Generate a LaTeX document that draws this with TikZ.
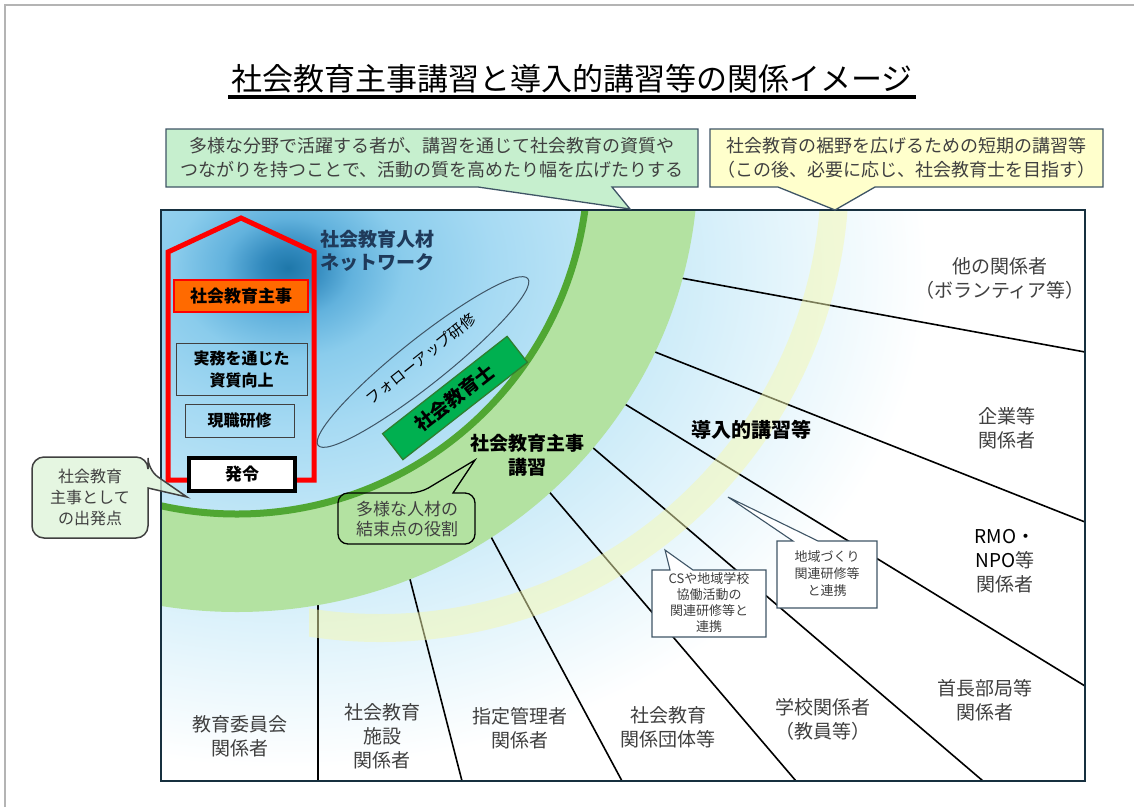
\documentclass[tikz,border=0pt]{standalone}
\usepackage{fontspec}
\setmainfont{Noto Sans CJK JP}
\usetikzlibrary{calc}
\definecolor{bgA}{HTML}{1E77A9}
\definecolor{bgB}{HTML}{3189BD}
\definecolor{bgC}{HTML}{62B2DD}
\definecolor{bgD}{HTML}{8ACCEC}
\definecolor{bgE}{HTML}{A6DAF3}
\definecolor{bgF}{HTML}{C9EAF8}
\definecolor{bgG}{HTML}{E7F6FC}
\definecolor{lgreen}{HTML}{B3E2A1}
\definecolor{dgreen}{HTML}{50A733}
\definecolor{yband}{HTML}{F4F8B0}
\definecolor{framec}{HTML}{17303F}
\definecolor{slate}{HTML}{3F5566}
\definecolor{cgreen}{HTML}{C6EFCE}
\definecolor{cyellow}{HTML}{FFFFCC}
\definecolor{cleft}{HTML}{DDF3D8}
\definecolor{labelgray}{HTML}{404040}
\definecolor{navytext}{HTML}{1F3A5A}
\definecolor{orangeF}{HTML}{FF6A00}
\definecolor{shigreen}{HTML}{00B050}
\definecolor{shiborder}{HTML}{2F7F2F}
\definecolor{slidegray}{HTML}{B4B4B4}
\pgfdeclareradialshading{bgsh}{\pgfpoint{0bp}{0bp}}{color(0bp)=(bgA); color(1bp)=(bgB); color(2.5bp)=(bgC); color(4.5bp)=(bgD); color(8bp)=(bgE); color(14bp)=(bgF); color(20bp)=(bgG); color(25bp)=(white); color(50bp)=(white)}
\begin{document}
\begin{tikzpicture}[x=1pt,y=-1pt,
  rline/.style={black, line width=1.6pt},
  lbl/.style={text=labelgray, font=\fontsize{19}{24}\selectfont, align=center, inner sep=0pt},
  calltxt/.style={text=labelgray, align=center, inner sep=0pt},
  callbox/.style={draw=slate, line width=1.3pt, line join=miter},
  housebox/.style={inner sep=0pt, align=center, font=\bfseries\fontsize{16}{22}\selectfont}
]
\useasboundingbox (0,0) rectangle (1134,807);
\fill[white] (0,0) rectangle (1134,807);
\draw[slidegray, line width=2pt] (4.5,807) -- (4.5,4.5) -- (1134,4.5);

% title
\node[font=\fontsize{31}{36}\selectfont, anchor=base, inner sep=0pt] (title) at (572,90) {社会教育主事講習と導入的講習等の関係イメージ};
\draw[line width=3.5pt] ($(title.base west)+(-3,7)$) -- ($(title.base east)+(3,7)$);

% main area
\begin{scope}
  \clip (161,210) rectangle (1085,781);
  \fill[white] (161,210) rectangle (1085,781);
  \shade[shading=bgsh] (288,268) ellipse [x radius=640pt, y radius=500pt];
  % radial lines
  \coordinate (s1) at (670,276);  \coordinate (e1) at (1085,352);
  \coordinate (s2) at (645,348);  \coordinate (e2) at (1085,522);
  \coordinate (s3) at (615,398);  \coordinate (e3) at (1085,686);
  \coordinate (s4) at (585,441);  \coordinate (e4) at (983,781);
  \coordinate (s5) at (540,481);  \coordinate (e5) at (796,781);
  \coordinate (s6) at (482,520);  \coordinate (e6) at (622,781);
  \coordinate (s7) at (404,556);  \coordinate (e7) at (462,781);
  \coordinate (s8) at (318,590);  \coordinate (e8) at (318,781);
  \foreach \i in {1,...,8} {\draw[rline] (s\i) -- (e\i);}
  % green band
  \fill[lgreen, even odd rule] (237,163) ellipse [x radius=461pt, y radius=449pt] (237,163) circle [radius=351pt];
  \draw[dgreen, line width=7pt] (237,163) circle [radius=351pt];
  % yellow band
  \begin{scope}
    \clip (309,0) rectangle (1100,800);
    \fill[yband, opacity=0.5, even odd rule] (380,173) circle [radius=469pt] (380,173) circle [radius=441pt];
  \end{scope}
\end{scope}
\draw[framec, line width=2.5pt] (161,210) rectangle (1085,781);

% house
\draw[red, line width=5pt, line join=miter] (168,480) -- (168,252) -- (241,218) -- (314,252) -- (314,480) -- cycle;
\node[housebox, draw=red, fill=orangeF, line width=2pt, minimum width=134pt, minimum height=32pt, font=\bfseries\fontsize{17}{22}\selectfont] (shuji) at (241,296) {社会教育主事};
\node[housebox, draw=labelgray, line width=1pt, minimum width=131pt, minimum height=52pt] (jitsumu) at (241.5,369) {実務を通じた\\資質向上};
\node[housebox, draw=labelgray, line width=1pt, minimum width=109pt, minimum height=33pt] (genshoku) at (239.5,420.5) {現職研修};
\node[housebox, draw=black, fill=white, line width=4pt, minimum width=106pt, minimum height=33pt, font=\bfseries\fontsize{17}{22}\selectfont] (hatsurei) at (242,474.5) {発令};

% network text
\node[font=\bfseries\fontsize{19}{23}\selectfont, text=navytext, align=center, inner sep=0pt] (net) at (377,251) {社会教育人材\\ネットワーク};

% follow-up ellipse
\draw[slate, line width=1pt, rotate around={38.5:(423,362)}] (423,362) ellipse [x radius=134pt, y radius=23pt];
\node[rotate=38.5, font=\fontsize{15}{18}\selectfont, inner sep=0pt] (follow) at (421,359) {フォローアップ研修};

% shakai kyouikushi box
\node[draw=shiborder, fill=shigreen, line width=1.3pt, rotate=38, minimum width=158pt, minimum height=33pt, inner sep=0pt, font=\bfseries\fontsize{19}{22}\selectfont] (shikyo) at (455,398) {社会教育士};

% koshu texts
\node[font=\bfseries\fontsize{19}{24}\selectfont, align=center, inner sep=0pt] (koshu) at (527,455) {社会教育主事\\講習};
\node[font=\bfseries\fontsize{20}{24}\selectfont, inner sep=0pt] (dounyu) at (751,430) {導入的講習等};

% labels
\node[lbl] (L1) at (1000,278) {他の関係者\\（ボランティア等）};
\node[lbl] (L2) at (1007,428) {企業等\\関係者};
\node[lbl] (L3) at (1005,561) {{\color{black}RMO・}\\{\color{black}NPO}等\\関係者};
\node[lbl] (L4) at (985,700) {首長部局等\\関係者};
\node[lbl] (L5) at (823,719) {学校関係者\\（教員等）};
\node[lbl] (L6) at (668,727) {社会教育\\関係団体等};
\node[lbl] (L7) at (520,728) {指定管理者\\関係者};
\node[lbl] (L8) at (382,736) {社会教育\\施設\\関係者};
\node[lbl] (L9) at (240,736) {教育委員会\\関係者};

% top green callout
\draw[callbox, fill=cgreen] (166,129) -- (698,129) -- (698,187) -- (612,187) -- (630,209) -- (478,187) -- (166,187) -- cycle;
\node[calltxt, font=\fontsize{18}{24}\selectfont] (c1) at (432,158) {多様な分野で活躍する者が、講習を通じて社会教育の資質や\\つながりを持つことで、活動の質を高めたり幅を広げたりする};

% top yellow callout
\draw[callbox, fill=cyellow] (710,129) -- (1103,129) -- (1103,187) -- (875,187) -- (835,210) -- (778,187) -- (710,187) -- cycle;
\node[calltxt, font=\fontsize{18}{24}\selectfont] (c2) at (906,158) {社会教育の裾野を広げるための短期の講習等\\（この後、必要に応じ、社会教育士を目指す）};

% left callout
\draw[draw=labelgray, line width=1.5pt, fill=cleft, fill opacity=0.75] (90,457) [rounded corners=12pt] -- (148,457) -- (148,470) [sharp corners] -- (187,497) -- (148,488) -- (148,492) [rounded corners=12pt] -- (148,538) -- (32,538) -- (32,457) -- cycle;
\node[calltxt, font=\fontsize{16}{21}\selectfont] (c3) at (90,497) {社会教育\\主事として\\の出発点};

% center callout
\draw[draw=black, line width=1.3pt] (338,520) [rounded corners=10pt] -- (338,493) -- (420,493) [sharp corners] -- (475,460) -- (453,493) -- (458,493) [rounded corners=10pt] -- (475,493) -- (475,544) -- (338,544) -- cycle;
\node[calltxt, font=\fontsize{17}{20}\selectfont] (c4) at (407,519) {多様な人材の\\結束点の役割};

% CS callout
\draw[callbox, fill=white, line width=1.1pt] (652,570) -- (670,570) -- (665,550) -- (693,570) -- (766,570) -- (766,637) -- (652,637) -- cycle;
\node[calltxt, font=\fontsize{13}{16}\selectfont] (c5) at (709,603) {CSや地域学校\\協働活動の\\関連研修等と\\連携};

% chiiki callout
\draw[callbox, fill=white, line width=1.1pt] (777,541) -- (793,541) -- (728,497) -- (818,541) -- (877,541) -- (877,608) -- (777,608) -- cycle;
\node[calltxt, font=\fontsize{13}{17}\selectfont] (c6) at (827,574) {地域づくり\\関連研修等\\と連携};
\end{tikzpicture}
\end{document}
